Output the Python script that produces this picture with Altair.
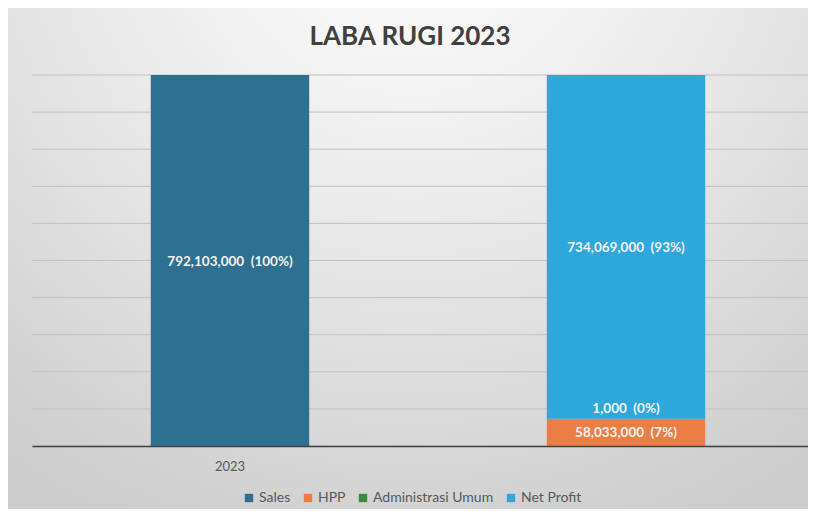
import altair as alt
import pandas as pd

# ---- data ----
categories = ["2023", " "]
series = ["Sales", "HPP", "Administrasi Umum", "Net Profit"]
series_category = ["2023", " ", " ", " "]
values = [792103000, 58033000, 1000, 734069000]
stack_order = [0, 0, 1, 2]
colors = ["#2E7090", "#EB7E45", "#3C8A3C", "#2EA8DA"]
grid_values = [0, 79210300, 158420600, 237630900, 316841200, 396051500,
               475261800, 554472100, 633682400, 712892700, 792103000]
title_text = "LABA RUGI 2023"

df = pd.DataFrame({"cat": series_category, "series": series,
                   "value": values, "ord": stack_order})
grid_df = pd.DataFrame({"v": grid_values})

FONT = "Lato"
W, H = 776, 371
yscale = alt.Scale(domain=[0, 792103000], nice=False, zero=True)
xscale = alt.Scale(domain=categories, range=[0, 792], paddingInner=0.6, paddingOuter=0.3)

bg = alt.Chart(pd.DataFrame({"a": [0]})).mark_rect(
    clip=False,
    fill=alt.Gradient(
        gradient="radial",
        stops=[alt.GradientStop(offset=0, color="#ffffff"),
               alt.GradientStop(offset=0.45, color="#ebebeb"),
               alt.GradientStop(offset=1, color="#cdcdcd")],
        x1=0.5, y1=0.05, r1=0, x2=0.5, y2=0.05, r2=0.85,
    ),
).encode(x=alt.value(-24), x2=alt.value(776), y=alt.value(-67), y2=alt.value(434))

grid = alt.Chart(grid_df).mark_rule(color="#c2c2c2", strokeWidth=1).encode(
    y=alt.Y("v:Q", scale=yscale, axis=None)
)

bars = alt.Chart(df).mark_bar().encode(
    x=alt.X("cat:N", scale=xscale, sort=categories,
            axis=alt.Axis(title=None, labelAngle=0, ticks=False, grid=False, zindex=1,
                          domainColor="#404040", domainWidth=1.5,
                          labelColor="#595959", labelFont=FONT, labelFontSize=13,
                          labelPadding=14)),
    y=alt.Y("value:Q", stack="zero", scale=yscale, axis=None),
    color=alt.Color("series:N", scale=alt.Scale(domain=series, range=colors),
                    legend=alt.Legend(title=None, orient="none", direction="horizontal",
                                      legendX=210, legendY=416, symbolType="square",
                                      symbolSize=70, symbolStrokeWidth=0,
                                      labelFont=FONT, labelFontSize=14,
                                      labelColor="#595959", columnPadding=10,
                                      symbolOffset=0, labelOffset=3)),
    order=alt.Order("ord:Q"),
)

base_txt = alt.Chart(df).transform_joinaggregate(
    total="sum(value)", groupby=["cat"]
).transform_stack(
    stack="value", groupby=["cat"], sort=[alt.SortField("ord")], as_=["v0", "v1"]
).transform_calculate(
    mid="(datum.v0 + datum.v1) / 2",
    label="format(datum.value, ',') + '\u00a0\u00a0(' + format(datum.value / datum.total, '.0%') + ')'",
)

text_kw = dict(font=FONT, fontWeight="bold", fontSize=13.5, color="#f2f2f2")

main_labels = base_txt.transform_filter("datum.series != 'Administrasi Umum'").mark_text(
    dy=1, **text_kw
).encode(
    x=alt.X("cat:N", scale=xscale, sort=categories),
    y=alt.Y("mid:Q", scale=yscale),
    text="label:N",
)

admin_label = base_txt.transform_filter("datum.series == 'Administrasi Umum'").mark_text(
    dy=-10, **text_kw
).encode(
    x=alt.X("cat:N", scale=xscale, sort=categories),
    y=alt.Y("mid:Q", scale=yscale),
    text="label:N",
)

title = alt.Chart(pd.DataFrame({"t": [title_text]})).mark_text(
    font=FONT, fontWeight="bold", fontSize=26, color="#404040", clip=False
).encode(x=alt.value(378), y=alt.value(-38), text="t:N")

chart = alt.layer(bg, grid, bars, main_labels, admin_label, title).properties(
    width=W, height=H,
    autosize=alt.AutoSizeParams(type="none"),
    padding={"left": 24, "top": 67, "right": 0, "bottom": 63},
    background="#e6e6e6",
).configure_view(strokeWidth=0)

chart.save("out.html", embed_options={"renderer": "svg", "actions": False})
